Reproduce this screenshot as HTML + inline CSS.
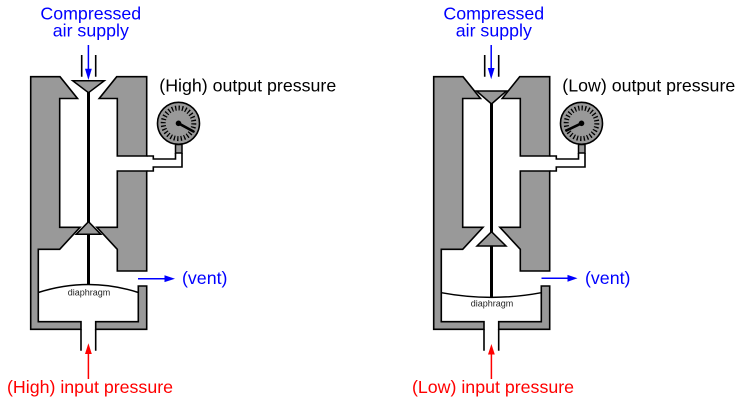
<!DOCTYPE html>
<html>
<head>
<meta charset="utf-8">
<style>
  html, body { margin: 0; padding: 0; background: #fff; }
  body { width: 748px; height: 404px; overflow: hidden; }
  svg { display: block; }
  text { font-family: "Liberation Sans", Arial, sans-serif; }
</style>
</head>
<body>
<svg width="748" height="404" viewBox="0 0 748 404" xmlns="http://www.w3.org/2000/svg">

  <!-- ================= LEFT (HIGH) ================= -->
  <g id="left">
    <g fill="#999" stroke="#000" stroke-width="1.6" stroke-linejoin="miter">
      <path d="M30.7,76.7 H60 L77.5,98.5 H59.7 V227.3 H80 L59.7,249.3 H38.3 V321.7 H81 V329.3 H30.7 Z"/>
      <path d="M116.7,76.7 H146.7 V156 H117.3 V98.5 H99.2 Z"/>
      <path d="M117.3,171 H146.7 V271 H117.3 V249.3 L96.9,227.3 H117.3 Z"/>
      <path d="M95.7,321.7 H138.3 V286 H146.7 V329.3 H95.7 Z"/>
    </g>
    <g fill="none" stroke="#000" stroke-width="1.6">
      <path d="M81.7,55 V76.7 M95.7,55 V76.7"/>
      <path d="M81,329.3 V350.7 M95.7,329.3 V350.7"/>
      <path d="M146.7,156 H153.3 V159 H175.5 V153 M182,153 V167 H153.3 V171 H146.7"/>
    </g>
    <rect x="175.5" y="144.5" width="6.5" height="8.5" fill="#999" stroke="#000" stroke-width="1.5"/>
    <circle cx="178.5" cy="123.3" r="21" fill="#999" stroke="#000" stroke-width="1.6"/>
    <circle cx="178.5" cy="123.3" r="15.3" fill="none" stroke="#000" stroke-width="5" stroke-dasharray="1.3 2.13"/>
    <line x1="178.5" y1="123.3" x2="193.5" y2="131.5" stroke="#000" stroke-width="2.6" stroke-linecap="round"/>
    <circle cx="178.5" cy="123.3" r="2.8" fill="#000"/>
    <line x1="88.5" y1="92" x2="88.5" y2="284.5" stroke="#000" stroke-width="3"/>
    <polygon points="72.7,80.7 104.3,80.7 88.5,92.7" fill="#999" stroke="#000" stroke-width="1.5"/>
    <polygon points="88.5,221.7 100.8,234.3 76.2,234.3" fill="#999" stroke="#000" stroke-width="1.5"/>
    <path d="M38.3,292.5 Q88.5,276.5 138.3,292.5" fill="none" stroke="#000" stroke-width="1.5"/>
    <text x="89" y="295.5" font-size="9" fill="#222" text-anchor="middle">diaphragm</text>
    <line x1="88.4" y1="45" x2="88.4" y2="70" stroke="#0000ff" stroke-width="1.5"/>
    <polygon points="85,68.8 91.8,68.8 88.4,80" fill="#0000ff"/>
    <line x1="138" y1="278.7" x2="166" y2="278.7" stroke="#0000ff" stroke-width="1.5"/>
    <polygon points="164.5,275.3 164.5,282.1 175,278.7" fill="#0000ff"/>
    <line x1="88.4" y1="379" x2="88.4" y2="352" stroke="#ff0000" stroke-width="1.5"/>
    <polygon points="85,354 91.8,354 88.4,343.3" fill="#ff0000"/>
    <text x="90.8" y="19.3" font-size="17.8" fill="#0000ff" text-anchor="middle">Compressed</text>
    <text x="90.8" y="36.7" font-size="17.8" fill="#0000ff" text-anchor="middle">air supply</text>
    <text x="159.3" y="91.5" font-size="17.8" fill="#000">(High) output pressure</text>
    <text x="182" y="284" font-size="17.8" fill="#0000ff">(vent)</text>
    <text x="90" y="393" font-size="17.8" fill="#ff0000" text-anchor="middle">(High) input pressure</text>
  </g>

  <!-- ================= RIGHT (LOW) ================= -->
  <g id="right" transform="translate(403,0)">
    <g fill="#999" stroke="#000" stroke-width="1.6" stroke-linejoin="miter">
      <path d="M30.7,76.7 H60 L77.5,98.5 H59.7 V227.3 H80 L59.7,249.3 H38.3 V321.7 H81 V329.3 H30.7 Z"/>
      <path d="M116.7,76.7 H146.7 V156 H117.3 V98.5 H99.2 Z"/>
      <path d="M117.3,171 H146.7 V271 H117.3 V249.3 L96.9,227.3 H117.3 Z"/>
      <path d="M95.7,321.7 H138.3 V286 H146.7 V329.3 H95.7 Z"/>
    </g>
    <g fill="none" stroke="#000" stroke-width="1.6">
      <path d="M81.7,55 V76.7 M95.7,55 V76.7"/>
      <path d="M81,329.3 V350.7 M95.7,329.3 V350.7"/>
      <path d="M146.7,156 H153.3 V159 H175.5 V153 M182,153 V167 H153.3 V171 H146.7"/>
    </g>
    <rect x="175.5" y="144.5" width="6.5" height="8.5" fill="#999" stroke="#000" stroke-width="1.5"/>
    <circle cx="178.5" cy="123.3" r="21" fill="#999" stroke="#000" stroke-width="1.6"/>
    <circle cx="178.5" cy="123.3" r="15.3" fill="none" stroke="#000" stroke-width="5" stroke-dasharray="1.3 2.13"/>
    <line x1="178.5" y1="123.3" x2="163.5" y2="130.5" stroke="#000" stroke-width="2.6" stroke-linecap="round"/>
    <circle cx="178.5" cy="123.3" r="2.8" fill="#000"/>
    <line x1="88.5" y1="103" x2="88.5" y2="297.5" stroke="#000" stroke-width="3"/>
    <polygon points="73.5,91 103.5,91 88.5,104" fill="#999" stroke="#000" stroke-width="1.5"/>
    <polygon points="88.5,231.7 103,246 74,246" fill="#999" stroke="#000" stroke-width="1.5"/>
    <path d="M38.3,292.7 Q88.5,302 138.3,292.7" fill="none" stroke="#000" stroke-width="1.5"/>
    <text x="89" y="306.5" font-size="9" fill="#222" text-anchor="middle">diaphragm</text>
    <line x1="88.2" y1="45" x2="88.2" y2="69" stroke="#0000ff" stroke-width="1.5"/>
    <polygon points="84.8,68 91.6,68 88.2,79.3" fill="#0000ff"/>
    <line x1="138.5" y1="278.3" x2="166" y2="278.3" stroke="#0000ff" stroke-width="1.5"/>
    <polygon points="164.5,274.9 164.5,281.7 174.5,278.3" fill="#0000ff"/>
    <line x1="88.4" y1="379" x2="88.4" y2="353" stroke="#ff0000" stroke-width="1.5"/>
    <polygon points="85,354.5 91.8,354.5 88.4,344" fill="#ff0000"/>
    <text x="90.8" y="19.3" font-size="17.8" fill="#0000ff" text-anchor="middle">Compressed</text>
    <text x="90.8" y="36.7" font-size="17.8" fill="#0000ff" text-anchor="middle">air supply</text>
    <text x="159.3" y="91.5" font-size="17.8" fill="#000">(Low) output pressure</text>
    <text x="182" y="284" font-size="17.8" fill="#0000ff">(vent)</text>
    <text x="90" y="393" font-size="17.8" fill="#ff0000" text-anchor="middle">(Low) input pressure</text>
  </g>
</svg>
</body>
</html>
